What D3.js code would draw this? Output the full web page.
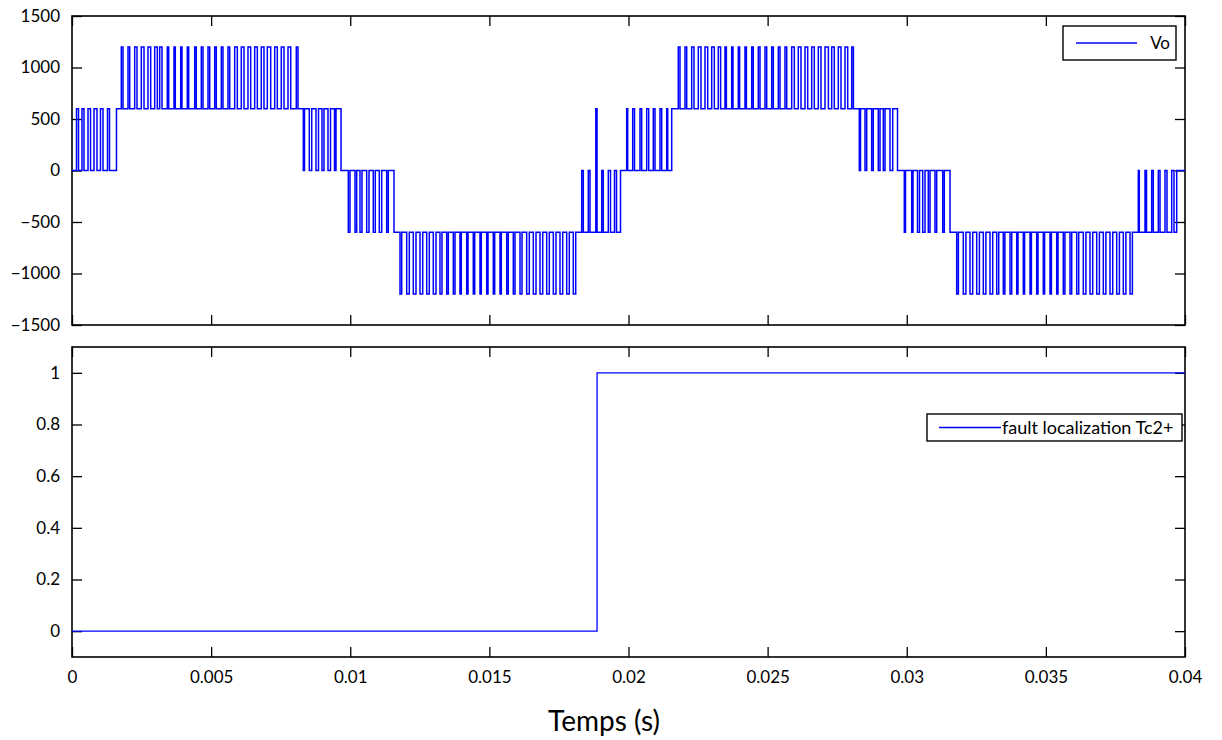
<!DOCTYPE html>
<html>
<head>
<meta charset="utf-8">
<script src="https://cdn.jsdelivr.net/npm/d3@7"></script>
<style>
  html, body { margin: 0; padding: 0; background: #fff; }
  svg { display: block; }
  text { font-family: Lato, "Open Sans", sans-serif; fill: #000; }
</style>
</head>
<body>
<svg id="chart" width="1222" height="740"></svg>
<script>
// ---------------- DATA ----------------
const xTickValues = [0, 0.005, 0.01, 0.015, 0.02, 0.025, 0.03, 0.035, 0.04];
const xTickLabels = ["0", "0.005", "0.01", "0.015", "0.02", "0.025", "0.03", "0.035", "0.04"];
const yTopTicks = [-1500, -1000, -500, 0, 500, 1000, 1500];
const yBottomTicks = [0, 0.2, 0.4, 0.6, 0.8, 1];
const xLabel = "Temps (s)";
const seriesTop = "Vo";
const seriesBottom = "fault localization Tc2+";

// Vo: PWM bands (times in ms). Each band: start time, base level, pulse level
const voBandStart = [0, 1.599, 8.122, 9.668, 11.572, 18.103, 19.713, 21.553, 28.083, 29.668, 31.555, 38.109, 39.702];
const voBandBase  = [0, 600, 600, 0, -600, -600, 0, 600, 600, 0, -600, -600, 0];
const voBandPulse = [600, 1200, 0, -600, -1200, 0, 600, 1200, 0, -600, -1200, 0, 0];

// pulses [start ms, end ms, (optional level)]
const pulsesA1 = [[0.162,0.234],[0.359,0.431],[0.575,0.665],[0.791,0.898],[1.024,1.114],[1.276,1.348]];
const pulsesB1 = [[1.772,1.833],[2.013,2.074],[2.253,2.336],[2.491,2.588],[2.731,2.828],[2.972,3.066],
  [3.152,3.235],[3.425,3.475],[3.666,3.712],[3.907,3.953],[4.144,4.194],[4.410,4.467],[4.647,4.708],
  [4.888,4.949],[5.128,5.186],[5.366,5.427],[5.606,5.668],[5.847,5.941],[6.084,6.181],[6.325,6.422],
  [6.566,6.660],[6.803,6.900],[7.019,7.141],[7.285,7.378],[7.522,7.619],[7.763,7.860],[8.061,8.122]];
const pulsesC1 = [[8.313,8.356],[8.528,8.615],[8.769,8.859],[8.985,9.057],[9.200,9.290],[9.434,9.488]];
const pulsesD1 = [[9.930,9.991],[10.171,10.232],[10.350,10.422],[10.591,10.674],[10.828,10.900],[11.044,11.130],[11.310,11.368]];
const pulsesE1 = [[11.788,11.849],[12.029,12.122],[12.266,12.363],[12.507,12.604],[12.748,12.841],[12.985,13.082],
  [13.225,13.297],[13.466,13.524],[13.704,13.765],[13.944,13.991],[14.185,14.232],[14.422,14.473],[14.663,14.710],
  [14.904,14.951],[15.141,15.191],[15.382,15.429],[15.623,15.680],[15.860,15.921],[16.101,16.173],[16.341,16.435],
  [16.579,16.676],[16.820,16.917],[17.060,17.154],[17.298,17.394],[17.538,17.635],[17.779,17.872],[18.016,18.103]];
const pulsesF1 = [[18.318,18.376],[18.555,18.616],[18.825,18.870,600],[19.037,19.094],[19.274,19.353],[19.497,19.569]];
const pulsesA2 = [[19.935,19.971],[20.151,20.216],[20.413,20.474],[20.654,20.726],[20.891,20.952],[21.132,21.193],[21.373,21.409]];
const pulsesB2 = [[21.790,21.851],[22.031,22.092],[22.271,22.354],[22.508,22.605],[22.749,22.846],[22.990,23.084],
  [23.227,23.310],[23.468,23.518],[23.709,23.755],[23.946,23.993],[24.187,24.237],[24.428,24.485],[24.665,24.726],
  [24.906,24.967],[25.146,25.204],[25.384,25.445],[25.624,25.686],[25.865,25.959],[26.102,26.199],[26.343,26.440],
  [26.584,26.678],[26.821,26.918],[27.062,27.184],[27.303,27.396],[27.540,27.637],[27.781,27.878],[28.022,28.083]];
const pulsesC2 = [[28.295,28.338],[28.500,28.561],[28.740,28.798],[28.977,29.039],[29.157,29.218],[29.398,29.495]];
const pulsesD2 = [[29.912,29.955],[30.178,30.225],[30.386,30.458],[30.573,30.656],[30.774,30.836],[31.015,31.076],[31.292,31.350]];
const pulsesE2 = [[31.795,31.856],[32.032,32.126],[32.273,32.370],[32.514,32.611],[32.751,32.844],[32.992,33.089],
  [33.233,33.305],[33.470,33.527],[33.711,33.772],[33.952,33.998],[34.189,34.235],[34.430,34.480],[34.670,34.717],
  [34.907,34.954],[35.148,35.199],[35.389,35.436],[35.626,35.684],[35.867,35.928],[36.108,36.180],[36.345,36.439],
  [36.586,36.683],[36.827,36.924],[37.064,37.157],[37.305,37.402],[37.546,37.643],[37.783,37.876],[38.024,38.109]];
const pulsesF2 = [[38.322,38.358],[38.563,38.617],[38.803,38.861],[39.041,39.102],[39.281,39.353],[39.522,39.605]];
const pulsesEnd = [];
const voBandPulses = [pulsesA1, pulsesB1, pulsesC1, pulsesD1, pulsesE1, pulsesF1,
                      pulsesA2, pulsesB2, pulsesC2, pulsesD2, pulsesE2, pulsesF2, pulsesEnd];
const voEndMs = 40;

// fault localization signal (step)
const faultTimeMs = [0, 18.87, 40];
const faultValue  = [0, 1, 1];

// ---------------- BUILD ----------------
const voPoints = [];
voBandStart.forEach((t0, i) => {
  voPoints.push([t0, voBandBase[i]]);
  voBandPulses[i].forEach(p => {
    voPoints.push([p[0], p.length > 2 ? p[2] : voBandPulse[i]]);
    voPoints.push([p[1], voBandBase[i]]);
  });
});
voPoints.push([voEndMs, voPoints[voPoints.length - 1][1]]);
const faultPoints = faultTimeMs.map((t, i) => [t, faultValue[i]]);

// ---------------- DRAW ----------------
const svg = d3.select("#chart");
svg.append("rect").attr("width", 1222).attr("height", 740).attr("fill", "#fff");

const L = 72, R = 1185;
const top1 = 16, bot1 = 325, top2 = 347, bot2 = 657;

const x = d3.scaleLinear().domain([0, 0.04]).range([L, R]);
const yTop = d3.scaleLinear().domain([-1500, 1500]).range([bot1, top1]);
const yBot = d3.scaleLinear().domain([-0.1, 1.1]).range([bot2, top2]);

const tickLen = 10;
const FS = 17;
function styleAxis(g) {
  g.select(".domain").remove();
  g.selectAll(".tick line").attr("stroke", "#000").attr("stroke-width", 1.3);
  g.selectAll(".tick text").attr("font-size", FS).attr("fill", "#000")
    .attr("font-family", "Lato, 'Open Sans', sans-serif");
}

function panel(yScale, yTicks, top, bot, showXLabels) {
  const g = svg.append("g");
  g.append("g").attr("transform", `translate(${L},0)`)
    .call(d3.axisLeft(yScale).tickValues(yTicks).tickSize(-tickLen).tickSizeOuter(0).tickPadding(12)
      .tickFormat(d => (Math.abs(d) < 1e-9 ? "0" : d3.format("")(+d.toFixed(3)))))
    .call(styleAxis);
  g.append("g").attr("transform", `translate(${R},0)`)
    .call(d3.axisRight(yScale).tickValues(yTicks).tickSize(-tickLen).tickSizeOuter(0).tickFormat(""))
    .call(styleAxis);
  g.append("g").attr("transform", `translate(0,${top})`)
    .call(d3.axisTop(x).tickValues(xTickValues).tickSize(-tickLen).tickSizeOuter(0).tickFormat(""))
    .call(styleAxis);
  g.append("g").attr("transform", `translate(0,${bot})`)
    .call(d3.axisBottom(x).tickValues(xTickValues).tickSize(-tickLen).tickSizeOuter(0).tickPadding(14)
      .tickFormat((d, i) => showXLabels ? xTickLabels[i] : ""))
    .call(styleAxis);
  g.append("rect").attr("x", L).attr("y", top).attr("width", R - L).attr("height", bot - top)
    .attr("fill", "none").attr("stroke", "#000").attr("stroke-width", 1.6);
  return g;
}

panel(yTop, yTopTicks, top1, bot1, false);
panel(yBot, yBottomTicks, top2, bot2, true);

svg.append("path")
  .datum(voPoints)
  .attr("fill", "none")
  .attr("stroke", "#0000ff")
  .attr("stroke-width", 1.5)
  .attr("d", d3.line().curve(d3.curveStepAfter).x(d => x(d[0] / 1000)).y(d => yTop(d[1])));

svg.append("path")
  .datum(faultPoints)
  .attr("fill", "none")
  .attr("stroke", "#0000ff")
  .attr("stroke-width", 1.3)
  .attr("d", d3.line().curve(d3.curveStepAfter).x(d => x(d[0] / 1000)).y(d => yBot(d[1])));

function legend(bx, by, bw, bh, lx1, lx2, text, tx, anchor, fs) {
  const g = svg.append("g");
  g.append("rect").attr("x", bx).attr("y", by).attr("width", bw).attr("height", bh)
    .attr("fill", "#fff").attr("stroke", "#000").attr("stroke-width", 1.4);
  g.append("line").attr("x1", lx1).attr("x2", lx2).attr("y1", by + bh / 2).attr("y2", by + bh / 2)
    .attr("stroke", "#0000ff").attr("stroke-width", 1.5);
  g.append("text").attr("x", tx).attr("y", by + bh / 2).attr("dy", "0.35em")
    .attr("text-anchor", anchor).attr("font-size", fs).text(text);
}
legend(1063, 26, 113, 34, 1076, 1137, seriesTop, 1170, "end", FS);
legend(927, 414, 255, 27, 939, 1001, seriesBottom, 1002, "start", 18);

svg.append("text").attr("x", 604).attr("y", 731).attr("text-anchor", "middle")
  .attr("font-size", 28).text(xLabel);
</script>
</body>
</html>
